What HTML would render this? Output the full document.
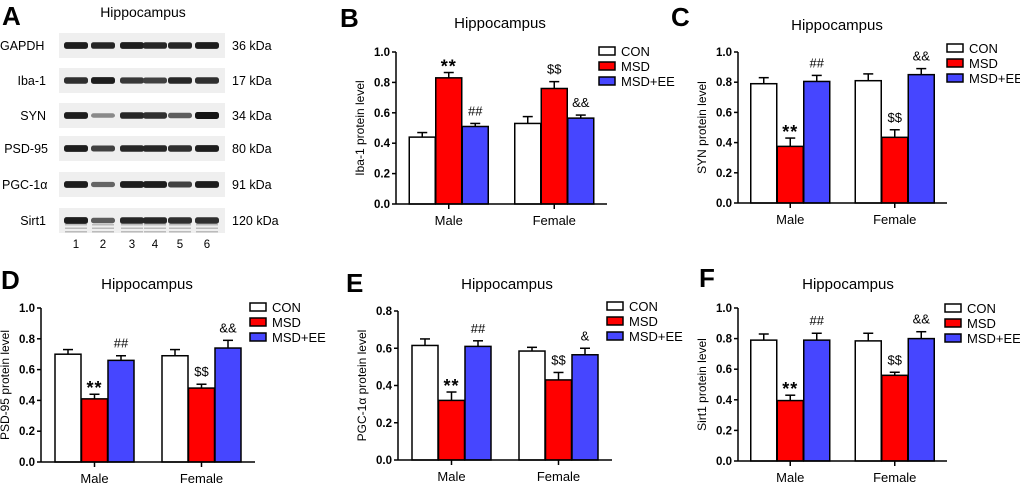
<!DOCTYPE html>
<html><head><meta charset="utf-8"><style>
body{margin:0;background:#fff;width:1020px;height:485px;overflow:hidden}
svg{display:block;font-family:"Liberation Sans",Arial,sans-serif}
</style></head><body>
<svg id="fig" width="1020" height="485" viewBox="0 0 1020 485" xmlns="http://www.w3.org/2000/svg"></svg>
<script>
// ---- data ----
const groups = ["Male","Female"];
const seriesNames = ["CON","MSD","MSD+EE"];
const seriesColors = ["#ffffff","#ff0000","#4646ff"];
const ibaMale = [0.44,0.83,0.51];
const ibaFemale = [0.53,0.76,0.565];
const ibaErrMale = [0.03,0.035,0.02];
const ibaErrFemale = [0.045,0.045,0.02];
const synMale = [0.79,0.375,0.805];
const synFemale = [0.81,0.435,0.85];
const synErrMale = [0.04,0.055,0.04];
const synErrFemale = [0.045,0.05,0.04];
const psdMale = [0.70,0.41,0.66];
const psdFemale = [0.69,0.48,0.74];
const psdErrMale = [0.03,0.03,0.03];
const psdErrFemale = [0.04,0.025,0.05];
const pgcMale = [0.615,0.32,0.61];
const pgcFemale = [0.585,0.43,0.565];
const pgcErrMale = [0.035,0.045,0.03];
const pgcErrFemale = [0.02,0.04,0.035];
const sirtMale = [0.79,0.395,0.79];
const sirtFemale = [0.785,0.56,0.80];
const sirtErrMale = [0.04,0.035,0.045];
const sirtErrFemale = [0.05,0.02,0.045];
const ticks10 = [0,0.2,0.4,0.6,0.8,1.0];
const ticks08 = [0,0.2,0.4,0.6,0.8];
const annotMale = ["","**","##"];
const annotFemaleB = ["","$$","&&"];
const annotFemaleE = ["","$$","&"];
// blot
const blotProteins = ["GAPDH","Iba-1","SYN","PSD-95","PGC-1α","Sirt1"];
const blotKda = ["36 kDa","17 kDa","34 kDa","80 kDa","91 kDa","120 kDa"];
const lanes = ["1","2","3","4","5","6"];
const bandIntensity = [
 [0.95,0.9,0.95,0.9,0.9,0.95],
 [0.85,0.95,0.8,0.75,0.9,0.85],
 [0.95,0.35,0.9,0.85,0.6,1.0],
 [0.95,0.75,0.9,0.9,0.85,0.95],
 [0.95,0.55,0.95,0.95,0.75,0.95],
 [0.95,0.6,0.9,0.9,0.85,0.85]
];

const NS="http://www.w3.org/2000/svg";
const fig=document.getElementById('fig');
function mk(tag,attrs,parent,text){const e=document.createElementNS(NS,tag);for(const k in attrs)e.setAttribute(k,attrs[k]);if(text!==undefined)e.textContent=text;(parent||fig).appendChild(e);return e;}

// ---- panel A ----
const gA=mk('g',{});


let t=mk('text',{x:2,y:25,'font-size':26,'font-weight':'bold'},gA,'A');

t=mk('text',{x:143,y:17,'font-size':14,'text-anchor':'middle'},gA,'Hippocampus');

const laneX=[76,103,132,155,180,207];
const rowY=[33,68,103,136,172,208];
blotProteins.forEach((p,i)=>{
  const y=rowY[i];
  const r=mk('rect',{x:59,y:y,width:166,height:25,fill:'#efefef'},gA);
  
  let l=mk('text',{x:i===0?0:(i===4?2:46),y:y+17,'font-size':12.5,'text-anchor':i===0||i===4?'start':'end'},gA,p);
  if(i===3){l.setAttribute('x',48);l.setAttribute('text-anchor','end');}
  
  let k=mk('text',{x:232,y:y+17,'font-size':12.5},gA,blotKda[i]);
  
  laneX.forEach((lx,j)=>{
    const v=bandIntensity[i][j];
    const g=Math.round(20+(1-v)*180);
    const h=3+v*4;
    const b=mk('rect',{x:lx-12,y:y+12.5-h/2,width:24,height:h,rx:2.5,fill:`rgb(${g},${g},${g})`},gA);
    
    if(i===5){for(let s=0;s<3;s++){mk('rect',{x:lx-11,y:y+16+s*3.5,width:22,height:1.5,fill:'#bbb'},gA);}}
  });
});
lanes.forEach((n,j)=>{const e=mk('text',{x:laneX[j],y:248,'font-size':11.5,'text-anchor':'middle'},gA,n);
  });

// ---- bar panels ----
function panel(o){
  const g=mk('g',{});
  
  
  let e=mk('text',{x:o.lx,y:o.ly,'font-size':26,'font-weight':'bold'},g,o.id.toUpperCase());
  
  e=mk('text',{x:o.tx,y:o.ty,'font-size':15,'text-anchor':'middle'},g,'Hippocampus');
  
  const ys=v=>o.y0-(v/o.ymax)*(o.y0-o.yTop);
  const gw=(o.xEnd-o.ax)/2;
  const xc=i=>o.ax+gw*(i+0.5);
  const bw=26;
  const data=[o.male,o.female], errs=[o.em,o.ef], ann=[annotMale,o.annF];
  groups.forEach((gn,gi)=>{
    seriesNames.forEach((sn,si)=>{
      const x=xc(gi)+(si-1.5)*bw+ (si-1)*0.5;
      const v=data[gi][si], er=errs[gi][si];
      const top=ys(v), etop=ys(v+er), cx=x+bw/2;
      let el=mk('line',{x1:cx,x2:cx,y1:top,y2:etop,stroke:'#000','stroke-width':1.5},g);
      
      mk('line',{x1:cx-5,x2:cx+5,y1:etop,y2:etop,stroke:'#000','stroke-width':1.5},g);
      const r=mk('rect',{x:x,y:top,width:bw,height:o.y0-top,fill:seriesColors[si],stroke:'#000','stroke-width':1.5},g);
      
      
      if(ann[gi][si]){
        const isStar=ann[gi][si]==='**';
        const a=mk('text',{x:cx,y:etop-(isStar?0:8),'font-size':isStar?18:13,'font-weight':isStar?'bold':'normal','letter-spacing':isStar?1:0,'text-anchor':'middle'},g,ann[gi][si]);
        
      }
    });
    mk('line',{x1:xc(gi),x2:xc(gi),y1:o.y0,y2:o.y0+5,stroke:'#000','stroke-width':1.5},g);
    let lb=mk('text',{x:xc(gi),y:o.y0+21,'font-size':13,'text-anchor':'middle'},g,gn);
    
  });
  let ax=mk('line',{x1:o.ax,x2:o.ax,y1:o.yTop,y2:o.y0,stroke:'#000','stroke-width':1.5},g);
  
  ax=mk('line',{x1:o.ax,x2:o.xEnd,y1:o.y0,y2:o.y0,stroke:'#000','stroke-width':1.5},g);
  
  o.ticks.forEach(v=>{
    mk('line',{x1:o.ax-4,x2:o.ax,y1:ys(v),y2:ys(v),stroke:'#000','stroke-width':1.5},g);
    const tl=mk('text',{x:o.ax-6,y:ys(v)+4,'font-size':11.5,'font-weight':'bold','text-anchor':'end'},g,v.toFixed(1));
    
  });
  const ym=(o.y0+o.yTop)/2;
  const yx=o.ax-32;
  const yl=mk('text',{x:yx,y:ym,'font-size':12,'text-anchor':'middle',transform:`rotate(-90 ${yx} ${ym})`},g,o.ylabel);
  
  seriesNames.forEach((sn,si)=>{
    const lg=mk('g',{},g);
    
    
    mk('rect',{x:o.legx,y:o.legy+si*15,width:16,height:8,fill:seriesColors[si],stroke:'#000','stroke-width':1.5},lg);
    mk('text',{x:o.legx+22,y:o.legy+si*15+9,'font-size':13},lg,sn);
  });
}
panel({id:'b',lx:340,ly:27,tx:500,ty:28,ax:396,xEnd:607,y0:204,yTop:52,ymax:1,ticks:ticks10,male:ibaMale,female:ibaFemale,em:ibaErrMale,ef:ibaErrFemale,annF:annotFemaleB,ylabel:'Iba-1 protein level',legx:599,legy:47});
panel({id:'c',lx:671,ly:26,tx:837,ty:30,ax:738,xEnd:947,y0:203,yTop:52,ymax:1,ticks:ticks10,male:synMale,female:synFemale,em:synErrMale,ef:synErrFemale,annF:annotFemaleB,ylabel:'SYN protein level',legx:947,legy:44});
panel({id:'d',lx:1,ly:289,tx:147,ty:289,ax:41,xEnd:255,y0:462,yTop:308,ymax:1,ticks:ticks10,male:psdMale,female:psdFemale,em:psdErrMale,ef:psdErrFemale,annF:annotFemaleB,ylabel:'PSD-95 protein level',legx:250,legy:303});
panel({id:'e',lx:346,ly:292,tx:507,ty:289,ax:398,xEnd:612,y0:460,yTop:311,ymax:0.8,ticks:ticks08,male:pgcMale,female:pgcFemale,em:pgcErrMale,ef:pgcErrFemale,annF:annotFemaleE,ylabel:'PGC-1α protein level',legx:607,legy:302});
panel({id:'f',lx:699,ly:287,tx:848,ty:289,ax:738,xEnd:947,y0:461,yTop:308,ymax:1,ticks:ticks10,male:sirtMale,female:sirtFemale,em:sirtErrMale,ef:sirtErrFemale,annF:annotFemaleB,ylabel:'Sirt1 protein level',legx:945,legy:304});
</script>
</body></html>
